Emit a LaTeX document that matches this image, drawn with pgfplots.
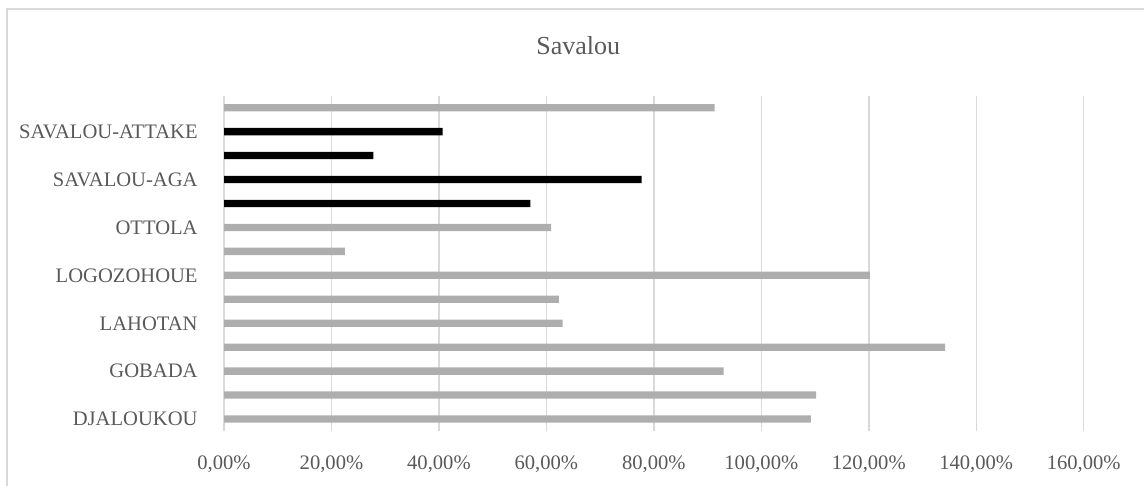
\documentclass[border=0pt]{standalone}
\usepackage{pgfplots}
\pgfplotsset{compat=1.18}
\usepackage{fontspec}
\setmainfont{Liberation Serif}
\definecolor{txt}{HTML}{595959}
\definecolor{gridc}{HTML}{D9D9D9}
\definecolor{bargray}{HTML}{AEAEAE}
\begin{document}
\begin{tikzpicture}
\useasboundingbox (0,0) rectangle (572pt,243pt);
\draw[gridc, line width=0.75pt] (3.5pt,0) -- (3.5pt,238.5pt) -- (572pt,238.5pt);
\node[txt, font=\fontsize{13}{15}\selectfont, anchor=base] at (289.15pt,215.5pt) {Savalou};
\begin{axis}[
  at={(112pt,27.5pt)}, anchor=south west,
  scale only axis, width=429.85pt, height=167.65pt,
  xmin=0, xmax=160, ymin=-0.5, ymax=13.5,
  axis line style={draw=none},
  major tick length=0pt,
  xmajorgrids, grid style={gridc, line width=0.75pt},
  xtick={0,20,...,160},
  xticklabels={{0,00\%},{20,00\%},{40,00\%},{60,00\%},{80,00\%},{100,00\%},{120,00\%},{140,00\%},{160,00\%}},
  ytick={0,...,13},
  yticklabels={DJALOUKOU,{},GOBADA,{},LAHOTAN,{},LOGOZOHOUE,{},OTTOLA,{},SAVALOU-AGA,{},SAVALOU-ATTAKE,{}},
  tick label style={text=txt, font=\fontsize{10.3}{12}\selectfont},
  xticklabel style={anchor=base, yshift=-19.15pt},
  yticklabel style={anchor=base east, inner sep=0pt, xshift=-13pt, yshift=-3.4pt},
  xbar, bar width=3.65pt,
]
\addplot[draw=none, fill=bargray, bar shift=0pt] coordinates {
  (109.2,0) (110.2,1) (93.0,2) (134.2,3) (63.0,4) (62.3,5) (120.2,6) (22.5,7) (60.9,8) (91.3,13)
};
\addplot[draw=none, fill=black, bar shift=0pt] coordinates {
  (57.0,9) (77.7,10) (27.8,11) (40.7,12)
};
\end{axis}
\end{tikzpicture}
\end{document}
